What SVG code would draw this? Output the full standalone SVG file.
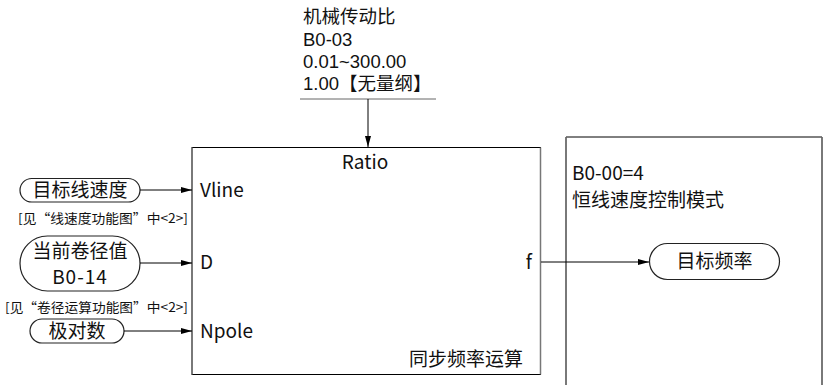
<svg xmlns="http://www.w3.org/2000/svg" width="824" height="385" viewBox="0 0 824 385">
<style>
text{font-family:"Noto Sans CJK SC","Noto Sans",sans-serif;fill:#111}
.t{font-size:19px}
.s{font-size:13px}
.p{font-family:"Liberation Sans","Noto Sans CJK SC",sans-serif;font-size:18.5px}
.pill{fill:#fff;stroke:#222;stroke-width:1.2}
.ln{stroke:#000;stroke-width:1;fill:none}
</style>
<defs>
<marker id="ar" markerWidth="11" markerHeight="8" refX="11" refY="4" orient="auto" markerUnits="userSpaceOnUse">
<path d="M0,1 L11,4 L0,7 Z" fill="#000"/>
</marker>
</defs>
<g id="param">
<text class="p" x="303" y="23">机械传动比</text>
<text class="p" x="303" y="46">B0-03</text>
<text class="p" x="303" y="68">0.01~300.00</text>
<text class="p" x="303" y="90">1.00【无量纲】</text>
<line x1="300" y1="99" x2="436" y2="99" stroke="#666" stroke-width="1"/>
</g>
<g id="main">
<rect x="192" y="147.5" width="348.5" height="227" fill="#fff" stroke="#000" stroke-width="1"/>
<line x1="192" y1="147.5" x2="192" y2="374.5" stroke="#777" stroke-width="1.5"/>
<line x1="540.5" y1="147.5" x2="540.5" y2="374.5" stroke="#777" stroke-width="1.5"/>
<text class="t" x="365" y="169" text-anchor="middle">Ratio</text>
<text class="t" x="200" y="197">Vline</text>
<text class="t" x="200" y="269">D</text>
<text class="t" x="200" y="338">Npole</text>
<text class="t" x="532" y="269" text-anchor="end">f</text>
<text class="t" x="523" y="366" text-anchor="end">同步频率运算</text>
</g>
<g id="mode">
<path d="M566,385 V137 H822 V385" fill="none" stroke="#000" stroke-width="1"/>
<line x1="566" y1="137" x2="566" y2="385" stroke="#777" stroke-width="1.5"/>
<line x1="822" y1="137" x2="822" y2="385" stroke="#777" stroke-width="1.5"/>
<text class="t" x="572" y="180">B0-00=4</text>
<text class="t" x="572" y="207">恒线速度控制模式</text>
</g>
<g id="vline">
<rect class="pill" x="20" y="178.5" width="120" height="23.5" rx="11.75"/>
<text class="t" x="80" y="197" text-anchor="middle">目标线速度</text>
<text class="s" x="18" y="223" textLength="170" lengthAdjust="spacingAndGlyphs">[见“线速度功能图”中&lt;2&gt;]</text>
</g>
<g id="diam">
<rect class="pill" x="20" y="236" width="120" height="55" rx="27.5"/>
<text class="t" x="80" y="258" text-anchor="middle">当前卷径值</text>
<text class="t" x="80" y="284" text-anchor="middle" letter-spacing="1">B0-14</text>
<text class="s" x="5" y="312" textLength="183" lengthAdjust="spacingAndGlyphs">[见“卷径运算功能图”中&lt;2&gt;]</text>
</g>
<g id="pole">
<rect class="pill" x="30" y="319" width="94" height="24" rx="12"/>
<text class="t" x="77" y="338" text-anchor="middle">极对数</text>
</g>
<g id="freq">
<rect class="pill" x="649.5" y="243.5" width="130" height="36" rx="18"/>
<text class="t" x="714.5" y="268" text-anchor="middle">目标频率</text>
</g>
<g id="connectors">
<line class="ln" x1="368" y1="99" x2="368" y2="147" marker-end="url(#ar)"/>
<line class="ln" x1="140" y1="190" x2="192" y2="190" marker-end="url(#ar)"/>
<line class="ln" x1="140" y1="263" x2="192" y2="263" marker-end="url(#ar)"/>
<line class="ln" x1="124" y1="331" x2="192" y2="331" marker-end="url(#ar)"/>
<line class="ln" x1="541" y1="262" x2="649" y2="262" marker-end="url(#ar)"/>
</g>
</svg>
